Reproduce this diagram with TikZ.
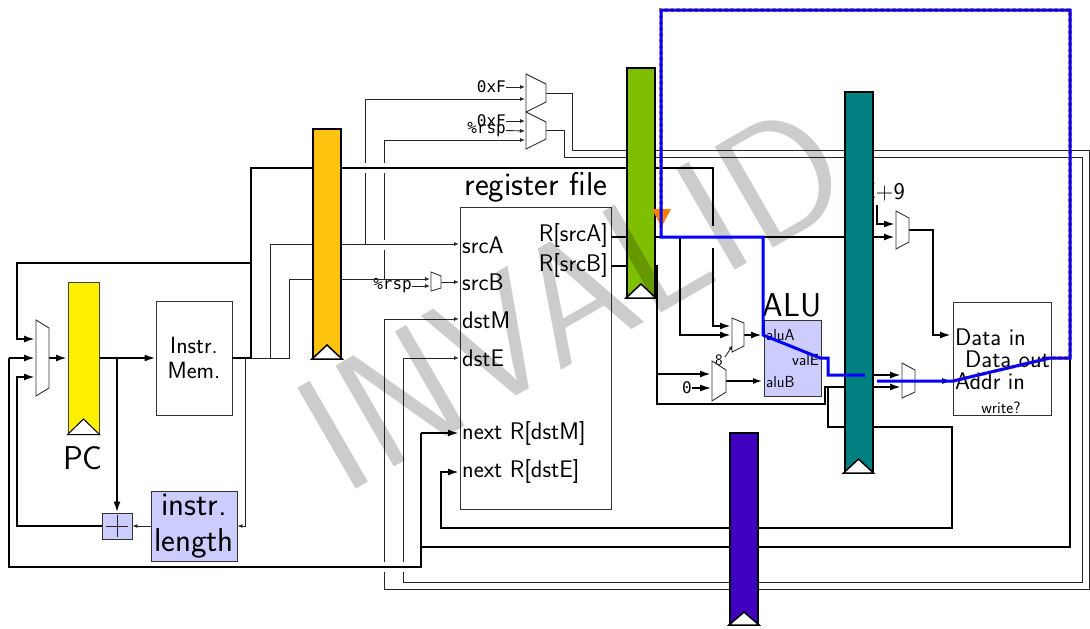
\documentclass[tikz,border=0pt]{standalone}
\usepackage{fontspec}
\setmonofont{DejaVu Sans Mono}
\usetikzlibrary{arrows.meta}
\newcommand{\fs}[1]{\fontsize{#1}{#1}\selectfont}
\newcommand{\muxshape}[7]{% name xl xr y1 y2 y3 y4
  \draw[muxline] (#2,#4) -- (#3,#5) -- (#3,#6) -- (#2,#7) -- cycle;
  \coordinate (#1) at (#3,{(#5+#6)/2});}
\tikzset{
  thinw/.style={draw=black!85,line width=0.9pt},
  thickw/.style={draw=black,line width=2pt},
  thinarrow/.style={thinw,-{Latex[length=5pt,width=4pt]}},
  thickarrow/.style={thickw,-{Latex[length=11pt,width=7pt]}},
  medarrow/.style={draw=black,line width=1.2pt,-{Latex[length=9pt,width=6pt]}},
  muxline/.style={draw=black!80,line width=0.9pt,fill=white},
  plainbox/.style={draw=black!80,line width=0.9pt,inner sep=0pt},
  fnbox/.style={plainbox,fill=lav},
  pipe/.style={draw=black,line width=2pt,inner sep=0pt,minimum width=28pt},
  chev/.style={draw=black,line width=1.5pt,fill=white},
  lab/.style={inner sep=0pt,font=\sffamily\fs{24}},
  small/.style={inner sep=0pt,font=\sffamily\fs{16}},
  big/.style={inner sep=0pt,align=center,font=\sffamily\fs{33}},
  code/.style={inner sep=0pt,font=\ttfamily\fs{16}},
  bus/.style={draw=blue,line width=3pt,line join=miter},
  busback/.style={draw=orange,line width=3.6pt,dashed},
}
\definecolor{lav}{HTML}{CCCCFF}
\definecolor{pcyel}{HTML}{FFF000}
\definecolor{fetchor}{HTML}{FFC30F}
\definecolor{decgreen}{HTML}{80BF00}
\definecolor{exteal}{HTML}{008080}
\definecolor{wbpurple}{HTML}{3F00BF}
\begin{document}
\begin{tikzpicture}[x=1pt,y=-1pt]
\useasboundingbox (0,0) rectangle (1090,629);
% boxes
\node[plainbox,minimum width=76pt,minimum height=114pt,align=center,font=\sffamily\fs{23.5}] (imem) at (194,358) {Instr.\\[1pt]Mem.};
\node[plainbox,minimum width=151pt,minimum height=302pt] (regs) at (535.5,358) {};
\node[big] (rftitle) at (536,187) {register file};
\node[fnbox,minimum width=30pt,minimum height=26pt] (adder) at (117,526) {};
\draw[thinw] (adder.center) ++(-11,0) -- ++(22,0) (adder.center) ++(0,-11) -- ++(0,22);
\node[fnbox,minimum width=86pt,minimum height=70pt,big] (ilen) at (194,526) {instr.\\[3pt]length};
\node[fnbox,minimum width=57pt,minimum height=76pt] (alu) at (792.5,358) {};
\node[big] (alutitle) at (792,305) {ALU};
\node[plainbox,minimum width=98pt,minimum height=113pt] (dmem) at (1002,358.5) {};
\node[big] (pclab) at (83,458) {PC};
% labels on register file
\node[lab,anchor=west] (srcA) at (462,245) {srcA};
\node[lab,anchor=west] (srcB) at (462,282) {srcB};
\node[lab,anchor=west] (dstM) at (462,320) {dstM};
\node[lab,anchor=west] (dstE) at (462,358) {dstE};
\node[lab,anchor=west] (nextM) at (462,433) {next R[dstM]};
\node[lab,anchor=west] (nextE) at (462,471) {next R[dstE]};
\node[lab,anchor=east] (RA) at (608,235) {R[srcA]};
\node[lab,anchor=east] (RB) at (608,265) {R[srcB]};
\node[small,anchor=west] (aluA) at (766,335) {aluA};
\node[small,anchor=west] (aluB) at (766,382) {aluB};
\node[small,anchor=east] (valE) at (819,360) {valE};
\node[lab,anchor=west] (dIn) at (955,337) {Data in};
\node[lab,anchor=west] (dOut) at (965,359) {Data out};
\node[lab,anchor=west] (aIn) at (955,381) {Addr in};
\node[small,font=\sffamily\fs{16.5}] (wr) at (1001,408) {write?};
\node[code,anchor=east] (k0) at (506,87) {0xF};
\node[code,anchor=east] (k1) at (506,121) {0xF};
\node[code,anchor=east] (k2) at (506,130) {\%rsp};
\node[code,anchor=east] (k3) at (412,286) {\%rsp};
\node[code,anchor=east] (k4) at (692,388) {0};
\node[small] (eight) at (719,360) {8};
\node[lab,anchor=east] (pc9) at (905,192) {PC+9};
% coordinates of free ends
\coordinate (pcmuxA) at (35,339);
\coordinate (pcmuxB) at (35,358);
\coordinate (pcmuxC) at (35,377);
\coordinate (busF) at (251,358);
\coordinate (inA) at (459,244);
\coordinate (inB) at (459,282);
\coordinate (inM) at (459,319);
\coordinate (inE) at (459,358);
% wires: fetch
\draw[thinw] (busF) -- (289,358) |- (312,279);
\draw[thinw] (270,358) |- (312,244);
\draw[thinarrow] (245,358) |- (ilen.east);
\draw[thinarrow] (ilen.west) -- (adder.east);
\draw[thickw] (imem.east) -- (busF) -- (251,168) -- (713,168) -- (713,226);
\draw[thickarrow] (713,248) |- (731,326);
\draw[thickarrow] (251,263) -- (17,263) |- (pcmuxA);
\draw[thickarrow] (adder.west) -- (17,526) |- (pcmuxC);
\draw[thickarrow] (99,358) -- (imem.west);
\draw[thickarrow] (117,358) -- (adder.north);
\draw[thickarrow] (49,358) -- (67,358);
% wires: decode
\draw[thinarrow] (341,244) -- (inA);
\draw[thinarrow] (341,279) -- (430,279);
\draw[thinarrow] (k3) -- (430,286);
\draw[thinarrow] (441,282) -- (inB);
\draw[thinw] (365,244) -- (365,173);
\draw[thinarrow] (365,163) |- (525,99);
\draw[thinw] (384,279) -- (384,250);
\draw[thinw] (384,240) -- (384,173);
\draw[thinarrow] (384,163) |- (525,140);
\draw[thinarrow] (k0) -- (525,87);
\draw[thinarrow] (k1) -- (525,121);
\draw[thinarrow] (k2) -- (525,131);
% long gray return wires
\draw[thinw] (546,93) -- (572,93) -- (572,150) -- (1089,150) -- (1089,589) -- (384,589) -- (384,572);
\draw[thinarrow] (384,562) |- (inM);
\draw[thinw] (546,130) -- (564,130) -- (564,157) -- (1082,157) -- (1082,582) -- (403,582) -- (403,572);
\draw[thinarrow] (403,562) |- (inE);
% wires: execute
\draw[thickw] (611,237) -- (845,237);
\draw[thickw] (611,266) -- (657,266) -- (657,404) -- (825,404) -- (825,387) -- (845,387);
\draw[thickarrow] (680,237) |- (731,335);
\draw[thickarrow] (657,374) -- (711,374);
\draw[thickarrow,line width=1.3pt] (k4) -- (711,388);
\draw[thinarrow] (eight) ++(6,-3) -- (733,345);
\draw[medarrow] (726,381) -- (762,381);
\draw[thickarrow] (744,335) -- (762,335);
% wires: memory
\draw[thickw] (828,387) -- (828,427) -- (952,427) -- (952,528) -- (441,528) -- (441,471);
\draw[thickarrow] (441,472) -- (459,472);
\draw[thickw] (1070,358) -- (1070,547) -- (421,547);
\draw[thickarrow] (9,358) -- (pcmuxB);
\draw[thickw] (9,358) -- (9,567) -- (421,567) -- (421,433);
\draw[thickarrow] (421,433) -- (459,433);
\draw[thickarrow] (873,237) -- (895,237);
\draw[thickarrow] (877,205) |- (895,224);
\draw[thickarrow] (909,230) -- (933,230) |- (951,335);
\draw[thickarrow] (873,375) -- (901,375);
\draw[thickarrow] (873,387) -- (901,387);
\draw[medarrow] (915,381) -- (951,381);
% muxes
\muxshape{mPC}{36}{49}{320}{328}{388}{396}
\muxshape{mA}{526}{546}{74}{84}{102}{112}
\muxshape{mB}{526}{546}{112}{122}{139}{149}
\muxshape{mS}{431}{441}{272}{276}{288}{291}
\muxshape{mAluA}{732}{744}{318}{323}{346}{352}
\muxshape{mAluB}{712}{726}{361}{370}{392}{401}
\muxshape{mData}{896}{909}{211}{218}{242}{249}
\muxshape{mAddr}{902}{915}{363}{370}{392}{398}
% pipeline registers
\node[pipe,draw=black!75,line width=1pt,minimum width=31pt,minimum height=152pt,fill=pcyel] (pcreg) at (83.5,358) {};
\draw[chev,line width=1pt] (pcreg.south west) -- (83.5,419) -- (pcreg.south east) -- cycle;
\node[pipe,minimum height=229pt,fill=fetchor] (freg) at (327,243.5) {};
\draw[chev] (freg.south west) -- (327,345) -- (freg.south east) -- cycle;
\node[pipe,minimum height=229pt,fill=decgreen] (dreg) at (641,182.5) {};
\draw[chev] (dreg.south west) -- (641,284) -- (dreg.south east) -- cycle;
\node[pipe,minimum height=380pt,fill=exteal] (ereg) at (858.5,282) {};
\draw[chev] (ereg.south west) -- (858.5,459) -- (ereg.south east) -- cycle;
\node[pipe,minimum height=191pt,fill=wbpurple] (wreg) at (744,528.5) {};
\draw[chev] (wreg.south west) -- (744,612) -- (wreg.south east) -- cycle;
% watermark
\node[inner sep=0pt,rotate=30,opacity=0.2,text=black,font=\sffamily\fs{168}] (wm) at (572,297) {INVALID};
% highlighted bus
\coordinate (busStart) at (661,227);
\coordinate (busEnd) at (865,375);
\coordinate (busB) at (877,381);
\draw[busback] (953,381) -- (1050,358) -- (1070,358) -- (1070,10) -- (661,10) -- (busStart);
\fill[orange] (652,209) -- (671,209) -- (661.5,227) -- cycle;
\draw[bus] (busB) -- (953,381) -- (1050,358) -- (1070,358) -- (1070,10) -- (661,10) -- (661,237) -- (763,237) -- (763,335) -- (820,358) -- (828,358) -- (828,375) -- (busEnd);
\end{tikzpicture}
\end{document}
